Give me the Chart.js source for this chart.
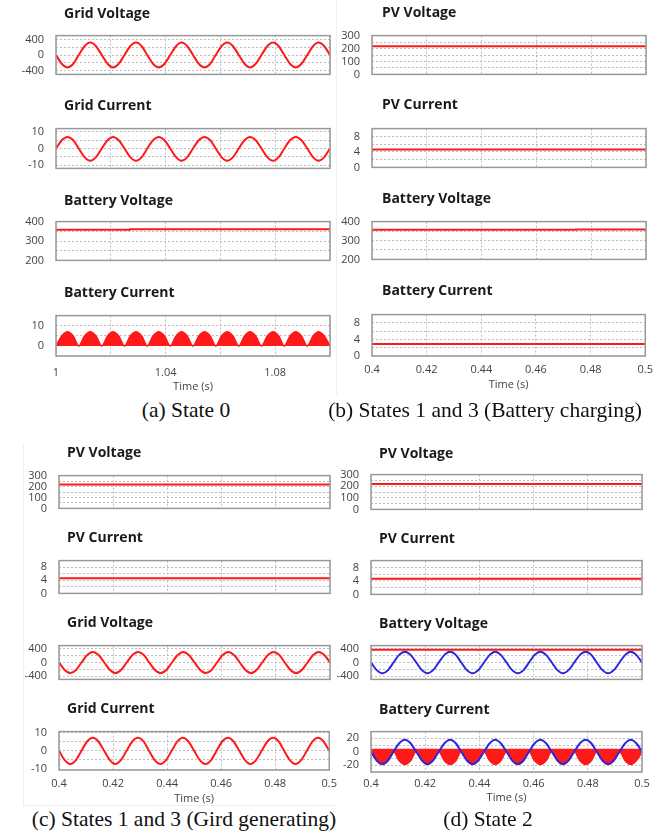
<!DOCTYPE html>
<html><head><meta charset="utf-8">
<script src="https://cdn.jsdelivr.net/npm/chart.js@4"></script>
<style>
html,body{margin:0;padding:0;background:#fff}
body{width:656px;height:832px;position:relative;overflow:hidden}
canvas{position:absolute}
.t{position:absolute;font:bold 14px "Open Sans",sans-serif;color:#1a1a1a;white-space:nowrap;line-height:14px;z-index:5}
.cap{position:absolute;font:21.5px "Liberation Serif",serif;color:#111;white-space:nowrap;line-height:1;transform:translate(-50%,-50%);z-index:5}
.fr{position:absolute;background:#efefef}
</style></head><body>
<div class="fr" style="left:336px;top:0;width:1px;height:395px"></div>
<div class="fr" style="left:23px;top:443px;width:1px;height:362px"></div>
<div class="fr" style="left:23px;top:805px;width:313px;height:1px"></div>
<div class="cap" style="left:186px;top:411px">(a) State 0</div>
<div class="cap" style="left:485px;top:411px">(b) States 1 and 3 (Battery charging)</div>
<div class="cap" style="left:184px;top:820px">(c) States 1 and 3 (Gird generating)</div>
<div class="cap" style="left:488px;top:820px">(d) State 2</div>
<script>
// ---------- time bases (s), read every 1/8 of a 60 Hz cycle ----------
const tA = [1.0000,1.0021,1.0042,1.0063,1.0083,1.0104,1.0125,1.0146,1.0167,1.0188,1.0208,1.0229,1.0250,1.0271,1.0292,1.0313,1.0333,1.0354,1.0375,1.0396,1.0417,1.0438,1.0458,1.0479,1.0500,1.0521,1.0542,1.0563,1.0583,1.0604,1.0625,1.0646,1.0667,1.0688,1.0708,1.0729,1.0750,1.0771,1.0792,1.0813,1.0833,1.0854,1.0875,1.0896,1.0917,1.0938,1.0958,1.0979,1.1000];
const tB = [0.4000,0.4021,0.4042,0.4063,0.4083,0.4104,0.4125,0.4146,0.4167,0.4188,0.4208,0.4229,0.4250,0.4271,0.4292,0.4313,0.4333,0.4354,0.4375,0.4396,0.4417,0.4438,0.4458,0.4479,0.4500,0.4521,0.4542,0.4563,0.4583,0.4604,0.4625,0.4646,0.4667,0.4688,0.4708,0.4729,0.4750,0.4771,0.4792,0.4813,0.4833,0.4854,0.4875,0.4896,0.4917,0.4938,0.4958,0.4979,0.5000];
const tAends = [1.0, 1.1];
const tBends = [0.4, 0.5];

// ---------- (a) State 0 ----------
const a_gridVoltage = [0,-226,-320,-226,0,226,320,226, 0,-226,-320,-226,0,226,320,226, 0,-226,-320,-226,0,226,320,226, 0,-226,-320,-226,0,226,320,226, 0,-226,-320,-226,0,226,320,226, 0,-226,-320,-226,0,226,320,226, 0];
const a_gridCurrent = [0,5,7,5,0,-5.2,-7.4,-5.2, 0,5,7,5,0,-5.2,-7.4,-5.2, 0,5,7,5,0,-5.2,-7.4,-5.2, 0,5,7,5,0,-5.2,-7.4,-5.2, 0,5,7,5,0,-5.2,-7.4,-5.2, 0,5,7,5,0,-5.2,-7.4,-5.2, 0];
const a_battVoltageT = [1.0, 1.027, 1.027, 1.1];
const a_battVoltage = [358, 358, 360, 360];
const a_battCurrent = [0,4.9,7,4.9,0,4.9,7,4.9, 0,4.9,7,4.9,0,4.9,7,4.9, 0,4.9,7,4.9,0,4.9,7,4.9, 0,4.9,7,4.9,0,4.9,7,4.9, 0,4.9,7,4.9,0,4.9,7,4.9, 0,4.9,7,4.9,0,4.9,7,4.9, 0];

// ---------- (b) States 1 and 3 (Battery charging) ----------
const b_pvVoltage = [218, 218];
const b_pvCurrent = [4.6, 4.6];
const b_battVoltageT = [0.4, 0.4745, 0.4745, 0.5];
const b_battVoltage = [357, 357, 358, 358];
const b_battCurrent = [2.9, 2.9];

// ---------- (c) States 1 and 3 (Grid generating) ----------
const c_pvVoltage = [218, 218];
const c_pvCurrent = [4.6, 4.6];
const c_gridVoltage = [0,-219,-310,-219,0,219,310,219, 0,-219,-310,-219,0,219,310,219, 0,-219,-310,-219,0,219,310,219, 0,-219,-310,-219,0,219,310,219, 0,-219,-310,-219,0,219,310,219, 0,-219,-310,-219,0,219,310,219, 0];
const c_gridCurrent = [0,-5.1,-7.2,-5.1,0,5.1,7.2,5.1, 0,-5.1,-7.2,-5.1,0,5.1,7.2,5.1, 0,-5.1,-7.2,-5.1,0,5.1,7.2,5.1, 0,-5.1,-7.2,-5.1,0,5.1,7.2,5.1, 0,-5.1,-7.2,-5.1,0,5.1,7.2,5.1, 0,-5.1,-7.2,-5.1,0,5.1,7.2,5.1, 0];

// ---------- (d) State 2 ----------
const d_pvVoltage = [218, 218];
const d_pvCurrent = [4.6, 4.6];
const d_battVoltage = [380, 380];
const d_gridVoltage = [0,-226,-320,-226,0,226,320,226, 0,-226,-320,-226,0,226,320,226, 0,-226,-320,-226,0,226,320,226, 0,-226,-320,-226,0,226,320,226, 0,-226,-320,-226,0,226,320,226, 0,-226,-320,-226,0,226,320,226, 0];
const d_gridCurrent = [0,-12.7,-18,-12.7,0,12.7,18,12.7, 0,-12.7,-18,-12.7,0,12.7,18,12.7, 0,-12.7,-18,-12.7,0,12.7,18,12.7, 0,-12.7,-18,-12.7,0,12.7,18,12.7, 0,-12.7,-18,-12.7,0,12.7,18,12.7, 0,-12.7,-18,-12.7,0,12.7,18,12.7, 0];
const d_battCurrent = [0,-13.4,-19,-13.4,0,-13.4,-19,-13.4, 0,-13.4,-19,-13.4,0,-13.4,-19,-13.4, 0,-13.4,-19,-13.4,0,-13.4,-19,-13.4, 0,-13.4,-19,-13.4,0,-13.4,-19,-13.4, 0,-13.4,-19,-13.4,0,-13.4,-19,-13.4, 0,-13.4,-19,-13.4,0,-13.4,-19,-13.4, 0];
const d_battCurrentTop = 4.5;

// ---------- ticks ----------
const xTicksA = [1.0,1.02,1.04,1.06,1.08,1.1];
const xLabelsA = ['1','','1.04','','1.08',''];
const xTicksB = [0.4,0.42,0.44,0.46,0.48,0.5];
const xLabelsB = ['0.4','0.42','0.44','0.46','0.48','0.5'];
const yTicksAC = [-400,-200,0,200,400];
const yLabelsAC = ['-400','','0','','400'];
const yTicksCur = [-10,-5,0,5,10];
const yLabelsCur = ['-10','','0','','10'];
const yTicksBV = [200,250,300,350,400];
const yLabelsBV = ['200','','300','','400'];
const yTicksBCa = [-5,0,5,10,15];
const yLabelsBCa = ['','0','','10',''];
const yTicksSmall = [0,2,4,6,8,10];
const yLabelsSmall = ['0','','4','','8',''];
const yTicksPV = [0,50,100,150,200,250,300];
const yLabelsPV = ['0','','100','','200','','300'];
const yTicksBCd = [-30,-20,-10,0,10,20,30];
const yLabelsBCd = ['','-20','','0','','20',''];

// ---------- styling ----------
const FONT = '"Open Sans", sans-serif';
const RED = 'rgb(255,25,25)';
const BLUE = 'rgb(40,40,225)';
const GRID = '#bdbdbd';
const TICK = '#444';
const AXW = 50;

const pts = (t, v) => t.map((x, i) => ({x: x, y: v[i]}));
const line = (data, color, extra) => Object.assign({data: data, borderColor: color, backgroundColor: color, borderWidth: 2, pointRadius: 0, fill: false, cubicInterpolationMode: 'monotone'}, extra || {});

const boxPlugin = {
  id: 'box',
  afterDraw(c) {
    const a = c.chartArea, x = c.ctx;
    x.save();
    x.strokeStyle = '#999';
    x.lineWidth = 1.5;
    x.strokeRect(a.left, a.top, a.right - a.left, a.bottom - a.top);
    x.restore();
  }
};

function mk(p) {
  const showX = !!p.showX;
  const XH = p.xh || 36;
  const padT = 10, padR = 14, padB = showX ? 0 : 10;
  const w = (p.R - p.L) + AXW + padR;
  const h = (p.B - p.T) + padT + (showX ? XH : padB);
  const cv = document.createElement('canvas');
  cv.width = w; cv.height = h;
  cv.style.left = (p.L - AXW) + 'px';
  cv.style.top = (p.T - padT) + 'px';
  cv.style.width = w + 'px'; cv.style.height = h + 'px';
  document.body.appendChild(cv);
  const t = document.createElement('div');
  t.className = 't'; t.textContent = p.title;
  t.style.left = p.tx + 'px'; t.style.top = p.ty + 'px';
  document.body.appendChild(t);
  new Chart(cv, {
    type: 'line',
    data: {datasets: p.ds},
    options: {
      responsive: false, animation: false, maintainAspectRatio: false,
      layout: {padding: {left: 0, top: padT, right: padR, bottom: padB}},
      plugins: {legend: {display: false}, tooltip: {enabled: false}},
      scales: {
        x: {
          type: 'linear', min: p.xmin, max: p.xmax,
          afterBuildTicks: s => { s.ticks = p.xv.map(v => ({value: v})); },
          afterFit: s => { s.height = showX ? XH : 0; },
          grid: {color: GRID, lineWidth: 1, drawTicks: false},
          border: {display: false, dash: [2, 2]},
          ticks: {display: showX, autoSkip: false, maxRotation: 0, padding: p.xpad || 6, color: TICK, font: {size: 11, family: FONT}, callback: (v, i) => p.xl[i]},
          title: {display: showX, text: 'Time (s)', color: TICK, font: {size: 11, family: FONT}, padding: {top: 0, bottom: 2}}
        },
        y: {
          type: 'linear', min: p.ymin, max: p.ymax,
          afterBuildTicks: s => { s.ticks = p.yv.map(v => ({value: v})); },
          afterFit: s => { s.width = AXW; },
          grid: {color: GRID, lineWidth: 1, drawTicks: false},
          border: {display: false, dash: [2, 2]},
          ticks: {autoSkip: false, padding: 12, color: TICK, font: {size: 11, family: FONT}, callback: (v, i) => p.yl[i]}
        }
      }
    },
    plugins: [boxPlugin]
  });
}

const A = {xv: xTicksA, xl: xLabelsA, xmin: 1.0, xmax: 1.1};
const B = {xv: xTicksB, xl: xLabelsB, xmin: 0.4, xmax: 0.5};
const STEP = {cubicInterpolationMode: 'default', tension: 0};

const panels = [
  // (a)
  Object.assign({title: 'Grid Voltage', tx: 64, ty: 6, L: 56, T: 27, R: 330, B: 83, ymin: -500, ymax: 500, yv: yTicksAC, yl: yLabelsAC,
    ds: [line(pts(tA, a_gridVoltage), RED)]}, A),
  Object.assign({title: 'Grid Current', tx: 64, ty: 98, L: 56, T: 120, R: 330, B: 177, ymin: -12, ymax: 12, yv: yTicksCur, yl: yLabelsCur,
    ds: [line(pts(tA, a_gridCurrent), RED)]}, A),
  Object.assign({title: 'Battery Voltage', tx: 64, ty: 193, L: 56, T: 213, R: 330, B: 269, ymin: 200, ymax: 400, yv: yTicksBV, yl: yLabelsBV,
    ds: [line(pts(a_battVoltageT, a_battVoltage), RED, STEP)]}, A),
  Object.assign({title: 'Battery Current', tx: 64, ty: 285, L: 56, T: 307, R: 330, B: 356, ymin: -5, ymax: 15, yv: yTicksBCa, yl: yLabelsBCa,
    showX: true, xpad: 10, xh: 39,
    ds: [line(pts(tA, a_battCurrent), RED, {fill: 'origin', borderWidth: 1.5})]}, A),
  // (b)
  Object.assign({title: 'PV Voltage', tx: 382, ty: 5, L: 372, T: 27, R: 646, B: 83, ymin: 0, ymax: 300, yv: yTicksPV, yl: yLabelsPV,
    ds: [line(pts(tBends, b_pvVoltage), RED)]}, B),
  Object.assign({title: 'PV Current', tx: 382, ty: 97, L: 372, T: 120, R: 646, B: 176, ymin: 0, ymax: 10, yv: yTicksSmall, yl: yLabelsSmall,
    ds: [line(pts(tBends, b_pvCurrent), RED)]}, B),
  Object.assign({title: 'Battery Voltage', tx: 382, ty: 191, L: 372, T: 213, R: 646, B: 268, ymin: 200, ymax: 400, yv: yTicksBV, yl: yLabelsBV,
    ds: [line(pts(b_battVoltageT, b_battVoltage), RED, STEP)]}, B),
  Object.assign({title: 'Battery Current', tx: 382, ty: 283, L: 372, T: 306, R: 646, B: 356, ymin: 0, ymax: 10, yv: yTicksSmall, yl: yLabelsSmall,
    showX: true, xpad: 7, xh: 37,
    ds: [line(pts(tBends, b_battCurrent), RED)]}, B),
  // (c)
  Object.assign({title: 'PV Voltage', tx: 67, ty: 445, L: 59, T: 467, R: 330, B: 517, ymin: 0, ymax: 300, yv: yTicksPV, yl: yLabelsPV,
    ds: [line(pts(tBends, c_pvVoltage), RED)]}, B),
  Object.assign({title: 'PV Current', tx: 67, ty: 530, L: 59, T: 552, R: 330, B: 602, ymin: 0, ymax: 10, yv: yTicksSmall, yl: yLabelsSmall,
    ds: [line(pts(tBends, c_pvCurrent), RED)]}, B),
  Object.assign({title: 'Grid Voltage', tx: 67, ty: 615, L: 59, T: 637, R: 330, B: 688, ymin: -500, ymax: 500, yv: yTicksAC, yl: yLabelsAC,
    ds: [line(pts(tB, c_gridVoltage), RED)]}, B),
  Object.assign({title: 'Grid Current', tx: 67, ty: 701, L: 59, T: 723, R: 330, B: 770, ymin: -10.5, ymax: 10.5, yv: yTicksCur, yl: yLabelsCur,
    showX: true, xpad: 7, xh: 37,
    ds: [line(pts(tB, c_gridCurrent), RED)]}, B),
  // (d)
  Object.assign({title: 'PV Voltage', tx: 379, ty: 446, L: 371, T: 466, R: 642, B: 518, ymin: 0, ymax: 300, yv: yTicksPV, yl: yLabelsPV,
    ds: [line(pts(tBends, d_pvVoltage), RED)]}, B),
  Object.assign({title: 'PV Current', tx: 379, ty: 531, L: 371, T: 552, R: 642, B: 603, ymin: 0, ymax: 10, yv: yTicksSmall, yl: yLabelsSmall,
    ds: [line(pts(tBends, d_pvCurrent), RED)]}, B),
  Object.assign({title: 'Battery Voltage', tx: 379, ty: 616, L: 371, T: 637, R: 642, B: 688, ymin: -500, ymax: 500, yv: yTicksAC, yl: yLabelsAC,
    ds: [line(pts(tBends, d_battVoltage), RED), line(pts(tB, d_gridVoltage), BLUE)]}, B),
  Object.assign({title: 'Battery Current', tx: 379, ty: 702, L: 371, T: 723, R: 642, B: 772, ymin: -30, ymax: 30, yv: yTicksBCd, yl: yLabelsBCd,
    showX: true, xpad: 5, xh: 34,
    ds: [line(pts(tB, d_gridCurrent), BLUE), line(pts(tB, d_battCurrent), RED, {fill: {value: d_battCurrentTop}, borderWidth: 1.5})]}, B)
];

panels.forEach(mk);
</script>
</body></html>
